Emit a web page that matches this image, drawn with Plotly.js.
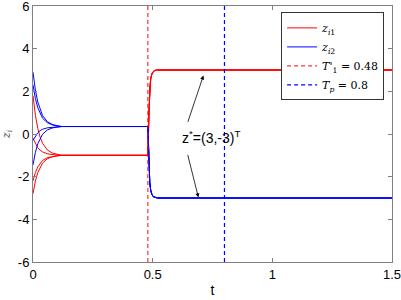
<!DOCTYPE html>
<html>
<head>
<meta charset="utf-8">
<script src="https://cdn.plot.ly/plotly-3.0.1.min.js"></script>
<style>html,body{margin:0;padding:0;background:#fff;}#chart{width:401px;height:300px;}</style>
</head>
<body>
<div id="chart"></div>
<script>
// time samples (s)
var tHead = [0, 0.01, 0.02, 0.03, 0.04, 0.06, 0.08, 0.10, 0.12];
var tTail = [0.48, 0.484, 0.488, 0.492, 0.497, 0.503, 0.51, 0.52, 1.5];

// red agents z_i1 (initial transient)
var red1 = [1.8, 0.88, 0.26, -0.16, -0.44, -0.75, -0.89, -0.96, -1.0];
var red2 = [-0.2, -0.46, -0.64, -0.76, -0.84, -0.93, -0.97, -0.99, -1.0];
var red3 = [-2.2, -1.8, -1.54, -1.36, -1.24, -1.11, -1.05, -1.02, -1.0];
var red4 = [-2.8, -2.21, -1.81, -1.54, -1.36, -1.16, -1.07, -1.03, -1.0];
var redTail = [-1.0, 1.0, 2.2, 2.6, 2.82, 2.93, 2.98, 3.0, 3.0];

// blue agents z_i2
var blue1 = [2.9, 2.06, 1.5, 1.12, 0.86, 0.58, 0.45, 0.39, 0.35];
var blue2 = [2.3, 1.66, 1.23, 0.94, 0.74, 0.53, 0.43, 0.38, 0.35];
var blue3 = [-0.3, -0.09, 0.06, 0.16, 0.22, 0.29, 0.32, 0.34, 0.35];
var blue4 = [-1.45, -0.86, -0.46, -0.19, -0.01, 0.19, 0.28, 0.32, 0.35];
var blueTail = [0.35, -1.5, -2.3, -2.65, -2.84, -2.94, -2.98, -3.0, -3.0];

// switching times
var T1 = 0.48;
var Tp = 0.8;

// annotation: z* = (3,-3)^T with arrows
var noteText = 'z<sup>*</sup>=(3,-3)<sup>T</sup>';
var noteX = 0.616, noteY = -0.16;
var arrowTipX = [0.712, 0.691];
var arrowTipY = [2.74, -2.97];
var arrowTailX = [0.645, 0.645];
var arrowTailY = [0.5, -0.91];

var tAll = tHead.concat(tTail);
var traces = [];
var reds = [red1, red2, red3, red4];
var blues = [blue1, blue2, blue3, blue4];
reds.forEach(function (r, i) {
  traces.push({x: tAll, y: r.concat(redTail), mode: 'lines', type: 'scatter',
    line: {color: '#ff0000', width: 1}, name: '<i>z</i><sub><i>i</i>1</sub>',
    showlegend: i === 0, legendgroup: 'r'});
});
blues.forEach(function (b, i) {
  traces.push({x: tAll, y: b.concat(blueTail), mode: 'lines', type: 'scatter',
    line: {color: '#0000ff', width: 1}, name: '<i>z</i><sub><i>i</i>2</sub>',
    showlegend: i === 0, legendgroup: 'b'});
});
traces.push({x: [T1, T1], y: [-6, 6], mode: 'lines', type: 'scatter',
  line: {color: '#ff0000', width: 1, dash: '4px,3px'}, name: "<i>T</i>'<sub>1</sub> = 0.48"});
traces.push({x: [Tp, Tp], y: [-6, 6], mode: 'lines', type: 'scatter',
  line: {color: '#0000ff', width: 1.2, dash: '4px,3px'}, name: '<i>T<sub>p</sub></i> = 0.8'});

var anns = [{x: noteX, y: noteY, xref: 'x', yref: 'y', text: noteText, showarrow: false,
  xanchor: 'left', yanchor: 'middle', font: {family: 'Liberation Sans, Arial', size: 14, color: '#000'}}];
for (var k = 0; k < arrowTipX.length; k++) {
  anns.push({x: arrowTipX[k], y: arrowTipY[k], ax: arrowTailX[k], ay: arrowTailY[k],
    xref: 'x', yref: 'y', axref: 'x', ayref: 'y', text: '', showarrow: true,
    arrowhead: 2, arrowsize: 1, arrowwidth: 0.8, arrowcolor: '#000'});
}

var axisCommon = {showgrid: false, zeroline: false, showline: true, linecolor: '#808080',
  linewidth: 1, mirror: 'ticks', ticks: 'inside', ticklen: 4, tickcolor: '#808080',
  ticklabeloverflow: 'allow',
  tickfont: {family: 'Liberation Sans, Arial', size: 13, color: '#000'}};

var layout = {
  width: 401, height: 300,
  margin: {l: 33, r: 9, t: 6, b: 38},
  paper_bgcolor: '#fff', plot_bgcolor: '#fff',
  showlegend: true,
  legend: {x: 0.978, y: 0.975, xanchor: 'right', yanchor: 'top', bgcolor: '#fff',
    bordercolor: '#333', borderwidth: 1, itemwidth: 30, tracegroupgap: 0,
    font: {family: 'DejaVu Serif, Liberation Serif', size: 11, color: '#000'}},
  xaxis: Object.assign({}, axisCommon, {range: [0, 1.5], tickvals: [0, 0.5, 1, 1.5],
    ticktext: ['0', '0.5', '1', '1.5'],
    title: {text: 't', standoff: 4, font: {family: 'Liberation Sans, Arial', size: 14, color: '#000'}}}),
  yaxis: Object.assign({}, axisCommon, {range: [-6, 6.0001], tickvals: [-6, -4, -2, 0, 2, 4, 6],
    ticktext: ['-6', '-4', '-2', '0', '2', '4', '6'],
    title: {text: '<i>z<sub>i</sub></i>', standoff: 6, font: {family: 'DejaVu Serif, Liberation Serif', size: 11, color: '#444'}}}),
  annotations: anns
};

Plotly.newPlot('chart', traces, layout, {displayModeBar: false, staticPlot: true});
</script>
</body>
</html>
